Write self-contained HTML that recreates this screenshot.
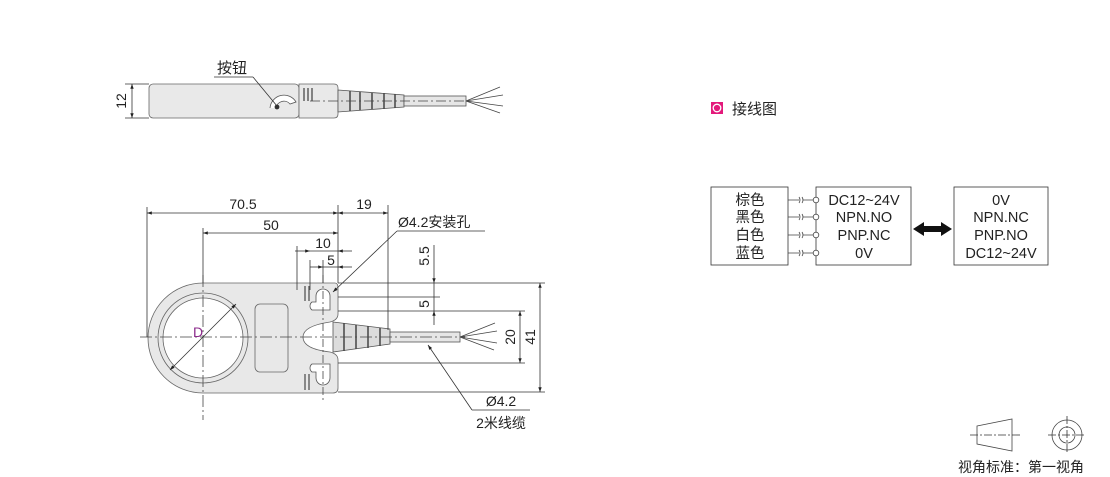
<!DOCTYPE html>
<html><head><meta charset="utf-8"><style>
html,body{margin:0;padding:0;background:#fff;}
svg{display:block;font-family:"Liberation Sans","Noto Sans CJK SC",sans-serif;}
</style></head><body>
<svg width="1110" height="477" viewBox="0 0 1110 477" xmlns="http://www.w3.org/2000/svg">
<defs>
<marker id="a" viewBox="0 0 10 10" refX="10" refY="5" markerWidth="8" markerHeight="6" orient="auto-start-reverse"><path d="M0,1.5 L10,5 L0,8.5 z" fill="#222"/></marker>
</defs>
<g stroke="#333" fill="none" stroke-width="0.8">
<!-- TOP VIEW -->
<rect x="149" y="84" width="150" height="34" rx="4" fill="#e9e9e9" stroke="#666"/>
<path d="M299,84 H334 Q338,84 338,88 V114 Q338,118 334,118 H299 Z" fill="#e9e9e9" stroke="#666"/>
<g stroke="#555" stroke-width="1.4"><line x1="304" y1="88" x2="304" y2="101"/><line x1="308" y1="88" x2="308" y2="101"/><line x1="312" y1="88" x2="312" y2="101"/></g>
<path d="M338,90 L404,95 V107 L338,112 Z" fill="#dcdcdc" stroke="#555"/>
<g stroke="#444" stroke-width="1.5"><line x1="350" y1="91" x2="350" y2="111"/><line x1="360" y1="92" x2="360" y2="110"/><line x1="372" y1="93" x2="372" y2="109"/><line x1="384" y1="93" x2="384" y2="109"/><line x1="395" y1="94" x2="395" y2="108"/></g>
<rect x="404" y="96" width="62" height="10" fill="#e6e6e6" stroke="#555"/>
<path d="M466,101 L500,87 M466,101 L503,95 M466,101 L503,106 M466,101 L500,113" stroke="#444"/>
<line x1="310" y1="101" x2="470" y2="101" stroke-dasharray="10,3,2,3" stroke="#444"/>
<path d="M270,108 A14,14 0 0 1 296,102 L290,104 A8,8 0 0 0 276,108" fill="#fff" stroke="#555"/>
<circle cx="277" cy="107" r="2" fill="#333"/>
<line x1="214" y1="77" x2="253" y2="77"/><line x1="253" y1="77" x2="277" y2="106"/>
<line x1="125" y1="84" x2="149" y2="84"/><line x1="125" y1="118" x2="149" y2="118"/>
<line x1="132" y1="84" x2="132" y2="118" marker-start="url(#a)" marker-end="url(#a)"/>

<!-- BOTTOM VIEW body -->
<path d="M203,283 H335 Q338,283 338,288 V314 Q338,320 330,322 Q303,326 303,337 Q303,349 330,352 Q338,354 338,360 V388 Q338,393 333,393 H203 A55,55 0 0 1 203,283 Z" fill="#e8e8e8" stroke="#666"/>
<circle cx="203" cy="338" r="45" fill="#e8e8e8" stroke="#666"/>
<circle cx="203" cy="338" r="40" fill="#fff" stroke="#666"/>
<rect x="255" y="304" width="33" height="68" rx="5" fill="#e8e8e8" stroke="#666"/>
<path d="M316,296 A7,7 0 0 1 330,296 V310 H312 A5,5 0 0 1 312,302 H316 Z" fill="#fff" stroke="#555"/>
<path d="M316,378 A7,7 0 0 0 330,378 V364 H312 A5,5 0 0 0 312,372 H316 Z" fill="#fff" stroke="#555"/>
<g stroke="#555" stroke-width="1.3"><line x1="305" y1="286" x2="305" y2="301"/><line x1="309" y1="286" x2="309" y2="301"/><line x1="305" y1="374" x2="305" y2="390"/><line x1="309" y1="374" x2="309" y2="390"/></g>
<path d="M333,322 L390,329 V344 L333,352 Z" fill="#dcdcdc" stroke="#555"/>
<g stroke="#444" stroke-width="1.5"><line x1="344" y1="323" x2="344" y2="351"/><line x1="356" y1="325" x2="356" y2="349"/><line x1="368" y1="326" x2="368" y2="348"/><line x1="380" y1="328" x2="380" y2="346"/></g>
<rect x="390" y="332" width="70" height="10" fill="#e6e6e6" stroke="#555"/>
<path d="M460,337 L495,323 M460,337 L497,331 M460,337 L497,343 M460,337 L494,350" stroke="#444"/>
<line x1="140" y1="337" x2="465" y2="337" stroke-dasharray="12,3,2,3" stroke="#444"/>
<line x1="203" y1="275" x2="203" y2="420" stroke-dasharray="12,3,2,3" stroke="#444"/>
<line x1="323" y1="275" x2="323" y2="400" stroke-dasharray="8,3,2,3" stroke="#444"/>
<line x1="170" y1="370" x2="236" y2="304" marker-start="url(#a)" marker-end="url(#a)"/>
<line x1="147" y1="207" x2="147" y2="337"/>
<line x1="203" y1="228" x2="203" y2="283"/>
<line x1="338" y1="205" x2="338" y2="283"/>
<line x1="388" y1="205" x2="388" y2="330"/>
<line x1="310" y1="260" x2="310" y2="290"/>
<line x1="323" y1="260" x2="323" y2="283"/>
<line x1="297" y1="246" x2="297" y2="290"/>
<line x1="147" y1="213" x2="338" y2="213" marker-start="url(#a)" marker-end="url(#a)"/>
<line x1="338" y1="213" x2="388" y2="213" marker-start="url(#a)" marker-end="url(#a)"/>
<line x1="203" y1="233" x2="338" y2="233" marker-start="url(#a)" marker-end="url(#a)"/>
<line x1="295" y1="251" x2="310" y2="251" marker-end="url(#a)"/><line x1="338" y1="251" x2="352" y2="251" marker-start="url(#a)"/>
<line x1="310" y1="251" x2="338" y2="251"/>
<line x1="310" y1="267" x2="323" y2="267" marker-end="url(#a)"/><line x1="338" y1="267" x2="352" y2="267" marker-start="url(#a)"/>
<line x1="323" y1="267" x2="338" y2="267"/>
<line x1="338" y1="283" x2="545" y2="283"/>
<line x1="338" y1="297" x2="440" y2="297"/>
<line x1="338" y1="311" x2="525" y2="311"/>
<line x1="338" y1="363" x2="525" y2="363"/>
<line x1="338" y1="392" x2="545" y2="392"/>
<line x1="434" y1="245" x2="434" y2="283" marker-end="url(#a)"/>
<line x1="434" y1="311" x2="434" y2="325" marker-start="url(#a)"/>
<line x1="434" y1="283" x2="434" y2="311"/>
<line x1="520" y1="311" x2="520" y2="363" marker-start="url(#a)" marker-end="url(#a)"/>
<line x1="540" y1="283" x2="540" y2="392" marker-start="url(#a)" marker-end="url(#a)"/>
<line x1="397" y1="231" x2="333" y2="292" marker-end="url(#a)"/><line x1="397" y1="231" x2="485" y2="231"/>
<line x1="472" y1="410" x2="428" y2="345" marker-end="url(#a)"/><line x1="472" y1="410" x2="530" y2="410"/>

<!-- WIRING -->
<rect x="711" y="187" width="77" height="78" stroke="#333"/>
<rect x="816" y="187" width="95" height="78" stroke="#333"/>
<rect x="954" y="187" width="94" height="78" stroke="#333"/>
<g stroke="#444">
<path d="M788,200 H799 M803,200 H813 M799,197 Q801,200 799,203 M802,197 Q804,200 802,203"/>
<path d="M788,217 H799 M803,217 H813 M799,214 Q801,217 799,220 M802,214 Q804,217 802,220"/>
<path d="M788,235 H799 M803,235 H813 M799,232 Q801,235 799,238 M802,232 Q804,235 802,238"/>
<path d="M788,253 H799 M803,253 H813 M799,250 Q801,253 799,256 M802,250 Q804,253 802,256"/>
</g>
<g fill="#fff" stroke="#444"><circle cx="816" cy="200" r="2.8"/><circle cx="816" cy="217" r="2.8"/><circle cx="816" cy="235" r="2.8"/><circle cx="816" cy="253" r="2.8"/></g>
<path d="M913,229 L924,222 V226 H941 V222 L952,229 L941,236 V232 H924 V236 Z" fill="#111" stroke="none"/>
<rect x="711" y="102" width="12" height="12" fill="#e3197b" stroke="none"/>
<circle cx="717" cy="108" r="3.8" fill="none" stroke="#fff" stroke-width="1.3"/>

<path d="M977,426 L1012,419 V451 L977,444 Z" stroke="#444"/>
<line x1="970" y1="435" x2="1020" y2="435" stroke-dasharray="8,2,2,2"/>
<circle cx="1067" cy="435" r="15" stroke="#444"/>
<circle cx="1067" cy="435" r="8" stroke="#444"/>
<line x1="1048" y1="435" x2="1086" y2="435" stroke-dasharray="8,2,2,2"/>
<line x1="1067" y1="416" x2="1067" y2="454" stroke-dasharray="8,2,2,2"/>
</g>

<g fill="#222" font-size="14">
<text x="217" y="73" font-size="15">按钮</text>
<text x="126" y="101" transform="rotate(-90 126 101)" text-anchor="middle">12</text>
<text x="243" y="209" text-anchor="middle">70.5</text>
<text x="364" y="209" text-anchor="middle">19</text>
<text x="271" y="230" text-anchor="middle">50</text>
<text x="323" y="248" text-anchor="middle">10</text>
<text x="331" y="265" text-anchor="middle">5</text>
<text x="398" y="227">Ø4.2安装孔</text>
<text x="429" y="256" transform="rotate(-90 429 256)" text-anchor="middle">5.5</text>
<text x="429" y="304" transform="rotate(-90 429 304)" text-anchor="middle">5</text>
<text x="515" y="337" transform="rotate(-90 515 337)" text-anchor="middle">20</text>
<text x="535" y="337" transform="rotate(-90 535 337)" text-anchor="middle">41</text>
<text x="198" y="337" fill="#8b2a8b" text-anchor="middle">D</text>
<text x="501" y="406" text-anchor="middle">Ø4.2</text>
<text x="501" y="428" text-anchor="middle">2米线缆</text>
<text x="732" y="114" font-size="15">接线图</text>
<g font-size="14.5" text-anchor="middle">
<text x="750" y="205">棕色</text><text x="750" y="222">黑色</text><text x="750" y="240">白色</text><text x="750" y="258">蓝色</text>
<text x="864" y="205">DC12~24V</text><text x="864" y="222">NPN.NO</text><text x="864" y="240">PNP.NC</text><text x="864" y="258">0V</text>
<text x="1001" y="205">0V</text><text x="1001" y="222">NPN.NC</text><text x="1001" y="240">PNP.NO</text><text x="1001" y="258">DC12~24V</text>
</g>
<text x="958" y="472" font-size="14">视角标准：第一视角</text>
</g>
</svg>
</body></html>
